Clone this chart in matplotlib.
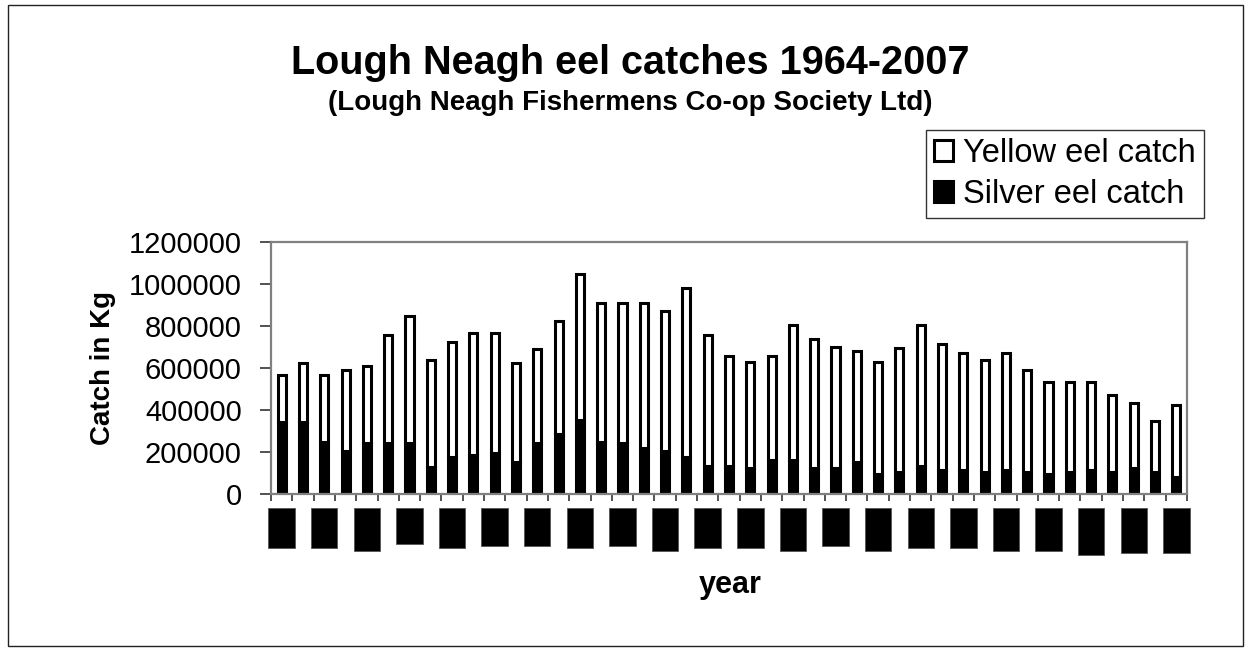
import matplotlib
matplotlib.use("Agg")
import matplotlib.pyplot as plt
from matplotlib.patches import Rectangle
from matplotlib.transforms import blended_transform_factory

plt.rcParams['font.family'] = ['Liberation Sans', 'DejaVu Sans']

years = list(range(1964, 2007))
total_catch = [567000, 624000, 567000, 590000, 610000, 757000, 848000, 638000, 724000, 767000,
               767000, 624000, 690000, 824000, 1048000, 910000, 910000, 910000, 871000, 981000,
               757000, 657000, 629000, 657000, 805000, 738000, 700000, 681000, 629000, 695000,
               805000, 714000, 671000, 638000, 671000, 590000, 533000, 533000, 533000, 471000,
               433000, 348000, 424000]
silver_catch = [343000, 343000, 248000, 205000, 243000, 243000, 243000, 129000, 176000, 186000,
                195000, 152000, 243000, 286000, 352000, 248000, 243000, 219000, 205000, 176000,
                133000, 133000, 124000, 162000, 162000, 124000, 124000, 152000, 95000, 105000,
                133000, 114000, 114000, 105000, 114000, 105000, 95000, 105000, 114000, 105000,
                124000, 105000, 81000]
yellow_catch = [t - s for t, s in zip(total_catch, silver_catch)]
# the rotated year labels render as solid black blocks in the reference (pixel heights)
label_block_heights = [40, 40, 42.7, 36, 40, 38.3, 38.3, 40, 38.3, 42.7, 40, 40, 42.7, 38.3,
                       42.7, 40, 40, 42.7, 42.7, 47, 45, 45]

W, H = 1252, 652
fig = plt.figure(figsize=(W / 100, H / 100), dpi=100)
fig.patch.set_facecolor('white')

# outer chart border
fig.patches.append(Rectangle((8 / W, 1 - 646 / H), (1243 - 8) / W, (646 - 5) / H,
                             transform=fig.transFigure, fill=False, edgecolor='#222222',
                             linewidth=1.0))

ax = fig.add_axes([271 / W, 1 - 494 / H, (1187 - 271) / W, (494 - 242) / H])
x = list(range(len(years)))
bw = 0.38
ax.bar(x, silver_catch, width=bw, color='black', edgecolor='black', linewidth=2.2,
       label='Silver eel catch', zorder=2)
ax.bar(x, yellow_catch, width=bw, bottom=silver_catch, color='white', edgecolor='black',
       linewidth=2.2, label='Yellow eel catch', zorder=2)

ax.set_xlim(-0.5, len(years) - 0.5)
ax.set_ylim(0, 1200000)
ax.set_yticks(range(0, 1200001, 200000))
ax.set_yticklabels([str(v) for v in range(0, 1200001, 200000)], fontsize=21)
ax.set_xticks([i - 0.5 for i in range(len(years) + 1)])
ax.set_xticklabels([])
ax.tick_params(axis='y', direction='out', length=8, width=1.2, color='#333333', pad=13)
ax.tick_params(axis='x', direction='out', length=5, width=1.2, color='#333333')
for s in ['left', 'bottom', 'top', 'right']:
    ax.spines[s].set_color('#808080')
    ax.spines[s].set_linewidth(1.6)

# label blocks
tr = blended_transform_factory(ax.transData, fig.transFigure)
for k, h in enumerate(label_block_heights):
    xc = x[2 * k]
    fig.patches.append(Rectangle((xc - 0.62, 1 - (508 + h) / H), 1.24, h / H,
                                 transform=tr, facecolor='black', edgecolor='#555555',
                                 linewidth=0.6))

ax.set_ylabel('Catch in Kg', fontsize=20, fontweight='bold', labelpad=9)
fig.text(730 / W, 1 - 585 / H, 'year', fontsize=22, fontweight='bold',
         ha='center', va='center')

fig.text(630 / W, 1 - 63 / H, 'Lough Neagh eel catches 1964-2007', fontsize=28.5,
         fontweight='bold', ha='center', va='center')
fig.text(630 / W, 1 - 103 / H, '(Lough Neagh Fishermens Co-op Society Ltd)', fontsize=20,
         fontweight='bold', ha='center', va='center')

handles, labels = ax.get_legend_handles_labels()
leg = fig.legend(handles[::-1], labels[::-1], loc='upper right',
                 bbox_to_anchor=(1204 / W, 1 - 130 / H), fontsize=23.5,
                 frameon=True, fancybox=False, shadow=False,
                 handlelength=0.6, handleheight=0.6, handletextpad=0.3,
                 borderpad=0.25, labelspacing=0.3, borderaxespad=0)
leg.get_frame().set_edgecolor('black')
leg.get_frame().set_linewidth(1.0)

fig.savefig('out.png', dpi=100)
